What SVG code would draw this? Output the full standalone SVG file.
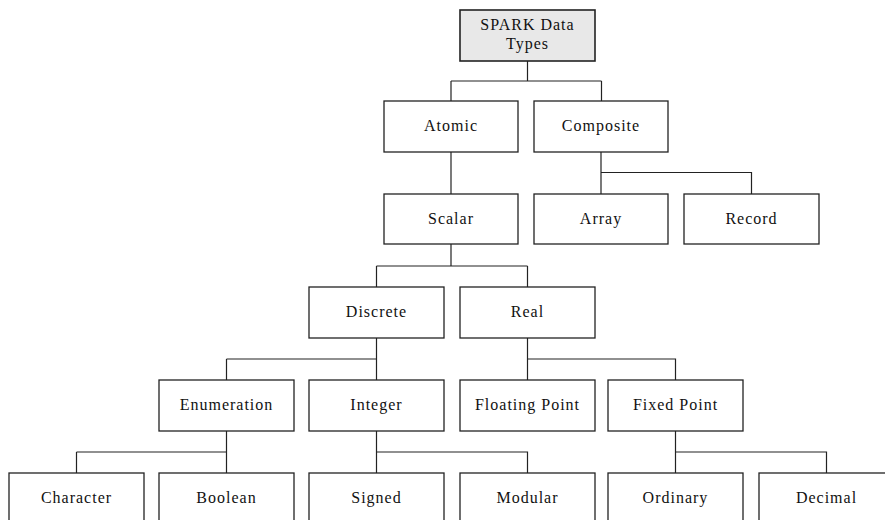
<svg xmlns="http://www.w3.org/2000/svg" width="885" height="520" viewBox="0 0 885 520">
<style>
rect{fill:#fff;stroke:#222;stroke-width:1.3}
#root rect{fill:#e8e8e8;stroke-width:1.6}
text{font-family:"Liberation Serif","Times New Roman",serif;font-size:16px;letter-spacing:1px;fill:#111;text-anchor:middle}
#connectors path{fill:none;stroke:#222;stroke-width:1.2}
</style>
<rect x="0" y="0" width="885" height="520" style="fill:#fff;stroke:none"/>
<g id="connectors">
<path d="M527.5 61V81M451 81H601.5M451 81V101M601.5 81V101"/>
<path d="M451 152V194"/>
<path d="M601 152V194M601 172.5H751.5V194"/>
<path d="M451 244V266M376.5 266H527.5M376.5 266V287M527.5 266V287"/>
<path d="M376.5 338V359M226.5 359H376.5M226.5 359V380M376.5 359V380"/>
<path d="M527.5 338V359H675.5V380M527.5 359V380"/>
<path d="M226.5 431V452M76.5 452H226.5M76.5 452V473M226.5 452V473"/>
<path d="M376.5 431V452H527.5V473M376.5 452V473"/>
<path d="M675.5 431V452H826.5V473M675.5 452V473"/>
</g>
<g id="root"><rect x="460" y="10" width="135" height="51"/><text x="527.5" y="30">SPARK Data</text><text x="527.5" y="49">Types</text></g>
<g id="atomic"><rect x="384" y="101" width="134" height="51"/><text x="451" y="131">Atomic</text></g>
<g id="composite"><rect x="534" y="101" width="134" height="51"/><text x="601" y="131">Composite</text></g>
<g id="scalar"><rect x="384" y="194" width="134" height="50"/><text x="451" y="224">Scalar</text></g>
<g id="array"><rect x="534" y="194" width="134" height="50"/><text x="601" y="224">Array</text></g>
<g id="record"><rect x="684" y="194" width="135" height="50"/><text x="751.5" y="224">Record</text></g>
<g id="discrete"><rect x="309" y="287" width="135" height="51"/><text x="376.5" y="317">Discrete</text></g>
<g id="real"><rect x="460" y="287" width="135" height="51"/><text x="527.5" y="317">Real</text></g>
<g id="enumeration"><rect x="159" y="380" width="135" height="51"/><text x="226.5" y="410">Enumeration</text></g>
<g id="integer"><rect x="309" y="380" width="135" height="51"/><text x="376.5" y="410">Integer</text></g>
<g id="floating"><rect x="460" y="380" width="135" height="51"/><text x="527.5" y="410">Floating Point</text></g>
<g id="fixed"><rect x="608" y="380" width="135" height="51"/><text x="675.5" y="410">Fixed Point</text></g>
<g id="character"><rect x="9" y="473" width="135" height="51"/><text x="76.5" y="503">Character</text></g>
<g id="boolean"><rect x="159" y="473" width="135" height="51"/><text x="226.5" y="503">Boolean</text></g>
<g id="signed"><rect x="309" y="473" width="135" height="51"/><text x="376.5" y="503">Signed</text></g>
<g id="modular"><rect x="460" y="473" width="135" height="51"/><text x="527.5" y="503">Modular</text></g>
<g id="ordinary"><rect x="608" y="473" width="135" height="51"/><text x="675.5" y="503">Ordinary</text></g>
<g id="decimal"><rect x="759" y="473" width="135" height="51"/><text x="826.5" y="503">Decimal</text></g>
</svg>
